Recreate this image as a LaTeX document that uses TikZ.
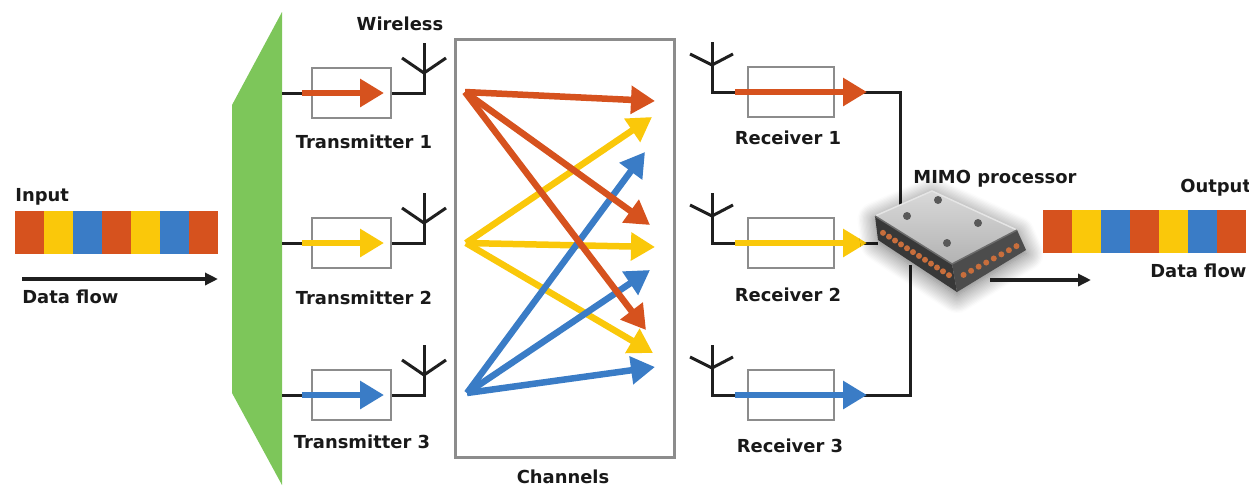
\documentclass[tikz,border=0pt]{standalone}
\usepackage{fontspec}
\setmainfont{DejaVu Sans}
\usetikzlibrary{arrows.meta,shadows.blur,calc}
\definecolor{sigred}{RGB}{214,82,30}
\definecolor{sigyel}{RGB}{250,200,10}
\definecolor{sigblu}{RGB}{58,124,198}
\definecolor{leaf}{RGB}{125,198,90}
\definecolor{framegray}{RGB}{140,140,140}
\definecolor{pincu}{RGB}{200,110,60}
\begin{document}
\begin{tikzpicture}[x=0.02cm,y=-0.02cm,
  lbl/.style={font=\fontsize{10.2}{12}\selectfont\bfseries, inner sep=0pt, text=black!90},
  wire/.style={line width=0.06cm, black!88},
  unitbox/.style={draw=framegray, line width=0.04cm, fill=white, minimum height=1cm, inner sep=0pt},
  txbox/.style={unitbox, minimum width=1.58cm},
  rxbox/.style={unitbox, minimum width=1.72cm},
  sigarrow/.style={line width=0.13cm, -{Triangle[length=0.48cm,width=0.54cm]}},
  flowarrow/.style={line width=0.08cm, black!88, -{Triangle[length=0.26cm,width=0.24cm]}},
  seg/.style={minimum width=0.58cm, minimum height=0.85cm, inner sep=0pt, draw=none}
]
\useasboundingbox (0,0) rectangle (1249,488);

% ---------- input data stream ----------
\node[lbl, anchor=west] (inlbl) at (15,197) {Input};
\foreach \c [count=\i from 0] in {sigred,sigyel,sigblu,sigred,sigyel,sigblu,sigred}
  \node[seg, fill=\c, anchor=north west] (in\i) at ({15+29*\i},211) {};
\coordinate (inflowA) at (22,279);
\coordinate (inflowB) at (218,279);
\draw[flowarrow] (inflowA) -- (inflowB);
\node[lbl, anchor=west] (inflow) at (22,297) {Data flow};

% ---------- splitter ----------
\fill[leaf] (282,12) -- (232,105) -- (232,393) -- (282,485) -- cycle;
\coordinate (g1) at (282,93);
\coordinate (g2) at (282,243);
\coordinate (g3) at (282,395);

% ---------- transmitters ----------
\foreach \r/\y/\c in {1/93/sigred,2/243/sigyel,3/395/sigblu}{
  \node[txbox] (tx\r) at (351.5,\y) {};
  \coordinate (tf\r) at (424,\y);
  \coordinate (tt\r) at (424,\y-50);
  \coordinate (tj\r) at (424,\y-20);
  \coordinate (tl\r) at (402,\y-35);
  \coordinate (tr\r) at (446,\y-35);
  \coordinate (ts\r) at (302,\y);
  \coordinate (te\r) at (384,\y);
  \draw[wire] (g\r) -- (tx\r.west);
  \draw[wire] (tx\r.east) -- (tf\r) -- (tt\r);
  \draw[wire] (tl\r) -- (tj\r) -- (tr\r);
  \draw[sigarrow, \c] (ts\r) -- (te\r);
}
\node[lbl] (txl1) at (364,142) {Transmitter 1};
\node[lbl] (txl2) at (364,298) {Transmitter 2};
\node[lbl] (txl3) at (362,442) {Transmitter 3};
\node[lbl] (wless) at (400,24) {Wireless};

% ---------- channel matrix ----------
\node[draw=framegray, line width=0.06cm, minimum width=4.4cm, minimum height=8.38cm, inner sep=0pt] (chan) at (565,248.5) {};
\node[lbl] (chanl) at (563,477) {Channels};

\coordinate (oR) at (465,92);
\coordinate (oY) at (466,243);
\coordinate (oB) at (467,393);
\coordinate (dR1) at (655,101);
\coordinate (dY1) at (652,117);
\coordinate (dB1) at (645,152);
\coordinate (dR2) at (650,225);
\coordinate (dY2) at (655,247);
\coordinate (dB2) at (650,270);
\coordinate (dR3) at (646,330);
\coordinate (dY3) at (653,353);
\coordinate (dB3) at (655,367);

\draw[sigarrow, sigyel] (oY) -- (dY1);
\draw[sigarrow, sigyel] (oY) -- (dY2);
\draw[sigarrow, sigyel] (oY) -- (dY3);
\draw[sigarrow, sigblu] (oB) -- (dB1);
\draw[sigarrow, sigblu] (oB) -- (dB2);
\draw[sigarrow, sigblu] (oB) -- (dB3);
\draw[sigarrow, sigred] (oR) -- (dR1);
\draw[sigarrow, sigred] (oR) -- (dR2);
\draw[sigarrow, sigred] (oR) -- (dR3);

% ---------- receivers ----------
\coordinate (m1) at (900,92);
\coordinate (m1b) at (900,210);
\coordinate (m2) at (878,243);
\coordinate (m3) at (910,395);
\coordinate (m3b) at (910,265);
\foreach \r/\y/\c in {1/92/sigred,2/243/sigyel,3/395/sigblu}{
  \node[rxbox] (rx\r) at (791,\y) {};
  \coordinate (rf\r) at (712,\y);
  \coordinate (rt\r) at (712,\y-50);
  \coordinate (rj\r) at (712,\y-27);
  \coordinate (rl\r) at (690,\y-38);
  \coordinate (rr\r) at (733,\y-38);
  \coordinate (rs\r) at (735,\y);
  \coordinate (re\r) at (867,\y);
  \draw[wire] (rt\r) -- (rf\r) -- (rx\r.west);
  \draw[wire] (rl\r) -- (rj\r) -- (rr\r);
}
\draw[wire] (rx1.east) -- (m1) -- (m1b);
\draw[wire] (rx2.east) -- (m2);
\draw[wire] (rx3.east) -- (m3) -- (m3b);
\foreach \r/\c in {1/sigred,2/sigyel,3/sigblu}
  \draw[sigarrow, \c] (rs\r) -- (re\r);
\node[lbl] (rxl1) at (788,138) {Receiver 1};
\node[lbl] (rxl2) at (788,295) {Receiver 2};
\node[lbl] (rxl3) at (790,446) {Receiver 3};

% ---------- MIMO processor chip ----------
\coordinate (cL) at (875,216);
\coordinate (cB) at (932,191);
\coordinate (cR) at (1017,230);
\coordinate (cF) at (952,264);
\coordinate (cLd) at (878,240);
\coordinate (cFd) at (957,292);
\coordinate (cRd) at (1026,250);
\fill[gray!60, blur shadow={shadow blur steps=14, shadow xshift=0pt, shadow yshift=-2pt, shadow blur radius=10pt, shadow opacity=60}]
  (cL) -- (cB) -- (cR) -- (cRd) -- (cFd) -- (cLd) -- cycle;
\fill[black!78] (cL) -- (cF) -- (cFd) -- (cLd) -- cycle;
\fill[black!70] (cF) -- (cR) -- (cRd) -- (cFd) -- cycle;
\foreach \k in {1,...,12}
  \fill[pincu] ({877+78*\k/13},{229+50*\k/13}) circle[radius=0.06cm];
\foreach \k in {1,...,8}
  \fill[pincu] ({956+68*\k/9},{279-37*\k/9}) circle[radius=0.06cm];
\shade[top color=gray!30, bottom color=gray!60] (cL) -- (cB) -- (cR) -- (cF) -- cycle;
\draw[gray!20, line width=0.03cm] (cL) -- (cB) -- (cR);
\draw[gray!85!black, line width=0.03cm] (cL) -- (cF) -- (cR);
\foreach \p in {(938,200),(907,216),(978,223),(947,243)}
  \fill[black!65] \p circle[radius=0.08cm];
\node[lbl] (mimol) at (995,179) {MIMO processor};
\coordinate (outA) at (990,280);
\coordinate (outB) at (1091,280);
\draw[flowarrow] (outA) -- (outB);

% ---------- output data stream ----------
\node[lbl, anchor=west] (outlbl) at (1180,188) {Output};
\foreach \c [count=\i from 0] in {sigred,sigyel,sigblu,sigred,sigyel,sigblu,sigred}
  \node[seg, fill=\c, anchor=north west] (out\i) at ({1043+29*\i},210) {};
\node[lbl, anchor=west] (outflow) at (1150,271) {Data flow};
\end{tikzpicture}
\end{document}
